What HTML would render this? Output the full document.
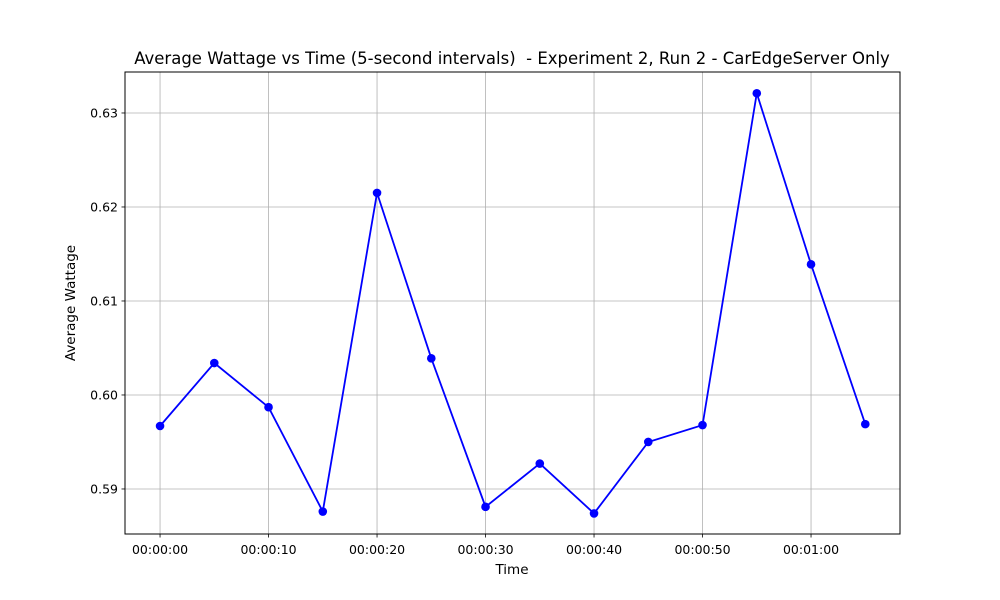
<!DOCTYPE html>
<html><head><meta charset="utf-8"><style>
body{margin:0;background:#fff;}
svg{display:block;font-family:"DejaVu Sans","Liberation Sans",sans-serif;}
text{white-space:pre;}
</style></head><body>
<svg id="chart" width="1000" height="600">
<rect x="0" y="0" width="1000" height="600" fill="#fff"/>
<text x="512" y="64" font-size="16.5" text-anchor="middle">Average Wattage vs Time (5-second intervals)  - Experiment 2, Run 2 - CarEdgeServer Only</text>
<text x="512" y="574" font-size="13.5" text-anchor="middle">Time</text>
<text x="75" y="303" font-size="13.5" text-anchor="middle" transform="rotate(-90 75 303)">Average Wattage</text>
<g id="grid"></g><g id="ticks"></g><g id="series"></g>
<rect x="125" y="72" width="775" height="462" fill="none" stroke="#000" stroke-width="1"/>
</svg>
<script>
const seconds=[0,5,10,15,20,25,30,35,40,45,50,55,60,65];
const wattage=[0.5967,0.6034,0.5987,0.5876,0.6215,0.6039,0.5881,0.5927,0.5874,0.5950,0.5968,0.6321,0.6139,0.5969];
const xTickSeconds=[0,10,20,30,40,50,60];
const xTickLabels=["00:00:00","00:00:10","00:00:20","00:00:30","00:00:40","00:00:50","00:01:00"];
const yTicks=[0.59,0.60,0.61,0.62,0.63];
const yTickLabels=["0.59","0.60","0.61","0.62","0.63"];

const L=125,R=900,T=72,B=534;
const xMin=-3.23,xMax=68.2,yMin=0.58521,yMax=0.63436;
const xs=v=>L+(v-xMin)/(xMax-xMin)*(R-L);
const ys=v=>B-(v-yMin)/(yMax-yMin)*(B-T);
const NS="http://www.w3.org/2000/svg";
function mk(tag,attrs,parent){const e=document.createElementNS(NS,tag);for(const k in attrs)e.setAttribute(k,attrs[k]);parent.appendChild(e);return e;}
const grid=document.getElementById('grid'),ticks=document.getElementById('ticks'),series=document.getElementById('series');
xTickSeconds.forEach((s,i)=>{
  const x=xs(s);
  const g=mk('line',{x1:x,x2:x,y1:T,y2:B,stroke:'#b0b0b0','stroke-width':0.8},grid);
  
  
  const t=mk('line',{x1:x,x2:x,y1:B,y2:B+3.5,stroke:'#000','stroke-width':0.8},ticks);
  
  
  const lb=mk('text',{x:x,y:B+20,'font-size':12.5,'text-anchor':'middle'},ticks);
  lb.textContent=xTickLabels[i];
  
  
});
yTicks.forEach((v,i)=>{
  const y=ys(v);
  const g=mk('line',{x1:L,x2:R,y1:y,y2:y,stroke:'#b0b0b0','stroke-width':0.8},grid);
  
  
  const t=mk('line',{x1:L-3.5,x2:L,y1:y,y2:y,stroke:'#000','stroke-width':0.8},ticks);
  
  
  const lb=mk('text',{x:L-7,y:y+4.5,'font-size':12.5,'text-anchor':'end'},ticks);
  lb.textContent=yTickLabels[i];
  
  
});
const pts=seconds.map((s,i)=>xs(s)+','+ys(wattage[i])).join(' ');
const line=mk('polyline',{points:pts,fill:'none',stroke:'#0000ff','stroke-width':1.8},series);


seconds.forEach((s,i)=>{
  const c=mk('circle',{cx:xs(s),cy:ys(wattage[i]),r:4.3,fill:'#0000ff'},series);
  
  
});
</script>
</body></html>
